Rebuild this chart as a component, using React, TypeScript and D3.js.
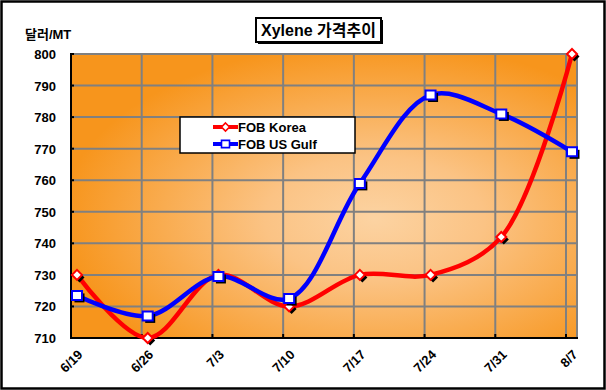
import { useEffect, useRef } from "react"
import * as d3 from "d3"

const categories = ["6/19", "6/26", "7/3", "7/10", "7/17", "7/24", "7/31", "8/7"]
const fobKorea = [730, 710, 730, 720, 730, 730, 742, 800]
const fobUsGulf = [723.5, 717, 729.5, 722.5, 759, 787, 781, 769]
const yTicks = [710, 720, 730, 740, 750, 760, 770, 780, 790, 800]

export default function App() {
  const svgRef = useRef<SVGSVGElement>(null)

  useEffect(() => {
    if (!svgRef.current) return
    d3.select(svgRef.current).selectAll("*").remove()

    const W = 606
    const H = 390
    const plot = { left: 71, right: 577, top: 54, bottom: 338 }
    const font = "'Liberation Sans', Arial, 'Noto Sans CJK KR', sans-serif"

    const svg = d3.select(svgRef.current).attr("width", W).attr("height", H)

    // background + outer border
    svg.append("rect").attr("x", 0).attr("y", 0).attr("width", W).attr("height", H).attr("fill", "#fff")
    svg
      .append("rect")
      .attr("x", 1.5)
      .attr("y", 1.5)
      .attr("width", W - 3)
      .attr("height", H - 3)
      .attr("fill", "none")
      .attr("stroke", "#000")
      .attr("stroke-width", 2.5)

    const defs = svg.append("defs")
    const grad = defs
      .append("radialGradient")
      .attr("id", "plot-bg")
      .attr("cx", "0.6")
      .attr("cy", "0.58")
      .attr("r", "0.62")
    grad.append("stop").attr("offset", "0%").attr("stop-color", "#fcd3a2")
    grad.append("stop").attr("offset", "35%").attr("stop-color", "#fbc384")
    grad.append("stop").attr("offset", "100%").attr("stop-color", "#f7951c")

    const x = d3
      .scaleLinear()
      .domain([0, categories.length - 1])
      .range([plot.left + 6, plot.right - 5])
    const y = d3.scaleLinear().domain([710, 800]).range([plot.bottom, plot.top])

    svg
      .append("rect")
      .attr("x", plot.left)
      .attr("y", plot.top)
      .attr("width", plot.right - plot.left)
      .attr("height", plot.bottom - plot.top)
      .attr("fill", "url(#plot-bg)")

    // grid lines
    const grid = svg.append("g").attr("stroke", "#808080").attr("stroke-width", 2)
    yTicks.slice(1).forEach((v) => {
      grid
        .append("line")
        .attr("x1", plot.left)
        .attr("x2", plot.right)
        .attr("y1", y(v))
        .attr("y2", y(v))
    })
    categories.forEach((_, i) => {
      if (i === 0) return
      grid
        .append("line")
        .attr("x1", x(i) - 6)
        .attr("x2", x(i) - 6)
        .attr("y1", plot.top)
        .attr("y2", plot.bottom)
    })
    grid
      .append("line")
      .attr("x1", plot.right)
      .attr("x2", plot.right)
      .attr("y1", plot.top)
      .attr("y2", plot.bottom)

    // axes
    const axes = svg.append("g").attr("stroke", "#000").attr("stroke-width", 2)
    axes
      .append("line")
      .attr("x1", plot.left)
      .attr("x2", plot.left)
      .attr("y1", plot.top - 1)
      .attr("y2", plot.bottom + 1)
    axes
      .append("line")
      .attr("x1", plot.left - 1)
      .attr("x2", plot.right + 1)
      .attr("y1", plot.bottom)
      .attr("y2", plot.bottom)
    yTicks.forEach((v) => {
      axes
        .append("line")
        .attr("x1", plot.left)
        .attr("x2", plot.left + 3)
        .attr("y1", y(v))
        .attr("y2", y(v))
    })
    categories.forEach((_, i) => {
      if (i === 0) return
      axes
        .append("line")
        .attr("x1", x(i) - 6)
        .attr("x2", x(i) - 6)
        .attr("y1", plot.bottom)
        .attr("y2", plot.bottom - 4)
    })

    // y labels
    svg
      .append("g")
      .selectAll("text")
      .data(yTicks)
      .enter()
      .append("text")
      .attr("x", plot.left - 15)
      .attr("y", (d) => y(d) + 5)
      .attr("text-anchor", "end")
      .attr("font-family", font)
      .attr("font-weight", "bold")
      .attr("font-size", 13)
      .text((d) => d)

    // x labels
    svg
      .append("g")
      .selectAll("text")
      .data(categories)
      .enter()
      .append("text")
      .attr("transform", (_, i) => `translate(${x(i)},${plot.bottom + 11}) rotate(-45)`)
      .attr("text-anchor", "end")
      .attr("dy", "0.7em")
      .attr("font-family", font)
      .attr("font-weight", "bold")
      .attr("font-size", 13)
      .text((d) => d)

    // lines
    const line = d3
      .line<number>()
      .x((_, i) => x(i))
      .y((d) => y(d))
      .curve(d3.curveCatmullRom.alpha(0.5))

    const series = [
      { values: fobKorea, color: "#ff0000", marker: "diamond" },
      { values: fobUsGulf, color: "#0000ff", marker: "square" },
    ]

    series.forEach((s) => {
      svg
        .append("path")
        .datum(s.values)
        .attr("fill", "none")
        .attr("stroke", s.color)
        .attr("stroke-width", 4.5)
        .attr("stroke-linejoin", "round")
        .attr("d", line)
    })

    const diamond = "M0,-5L5,0L0,5L-5,0Z"
    const square = "M-5,-4.5L5,-4.5L5,4.5L-5,4.5Z"

    series.forEach((s) => {
      const g = svg.append("g")
      const shape = s.marker === "diamond" ? diamond : square
      g.selectAll(".shadow")
        .data(s.values)
        .enter()
        .append("path")
        .attr("d", shape)
        .attr("transform", (d, i) => `translate(${x(i) + 2.5},${y(d) + 2.5})`)
        .attr("fill", "#000")
      g.selectAll(".mark")
        .data(s.values)
        .enter()
        .append("path")
        .attr("d", shape)
        .attr("transform", (d, i) => `translate(${x(i)},${y(d)})`)
        .attr("fill", "#fff")
        .attr("stroke", s.color)
        .attr("stroke-width", 2)
    })

    // legend
    const lg = svg.append("g").attr("transform", "translate(180,117)")
    lg.append("rect")
      .attr("width", 175)
      .attr("height", 36)
      .attr("fill", "#fff")
      .attr("stroke", "#000")
      .attr("stroke-width", 1.5)
    const legendItems = [
      { name: "FOB Korea", color: "#ff0000", shape: diamond, dy: 10 },
      { name: "FOB US Gulf", color: "#0000ff", shape: square, dy: 27 },
    ]
    legendItems.forEach((it) => {
      lg.append("line")
        .attr("x1", 33)
        .attr("x2", 58)
        .attr("y1", it.dy)
        .attr("y2", it.dy)
        .attr("stroke", it.color)
        .attr("stroke-width", 4)
      lg.append("path")
        .attr("d", it.shape)
        .attr("transform", `translate(45.5,${it.dy}) scale(0.8)`)
        .attr("fill", "#fff")
        .attr("stroke", it.color)
        .attr("stroke-width", 2)
      lg.append("text")
        .attr("x", 58)
        .attr("y", it.dy + 5)
        .attr("font-family", font)
        .attr("font-size", 13)
        .attr("font-weight", "bold")
        .text(it.name)
    })

    // title
    const tg = svg.append("g").attr("transform", "translate(256,18)")
    tg.append("rect").attr("x", 2).attr("y", 2).attr("width", 125).attr("height", 24).attr("fill", "#000")
    tg.append("rect")
      .attr("width", 125)
      .attr("height", 24)
      .attr("fill", "#fff")
      .attr("stroke", "#000")
      .attr("stroke-width", 2)
    tg.append("text")
      .attr("x", 62.5)
      .attr("y", 17.5)
      .attr("text-anchor", "middle")
      .attr("font-family", font)
      .attr("font-size", 16)
      .attr("font-weight", "bold")
      .text("Xylene 가격추이")

    // y axis title
    svg
      .append("text")
      .attr("x", 25)
      .attr("y", 39)
      .attr("font-family", font)
      .attr("font-size", 13)
      .attr("font-weight", "bold")
      .text("달러/MT")
  }, [])

  return (
    <svg
      ref={svgRef}
      style={{ position: "fixed", left: 0, top: 0, display: "block" }}
      width={606}
      height={390}
    />
  )
}
